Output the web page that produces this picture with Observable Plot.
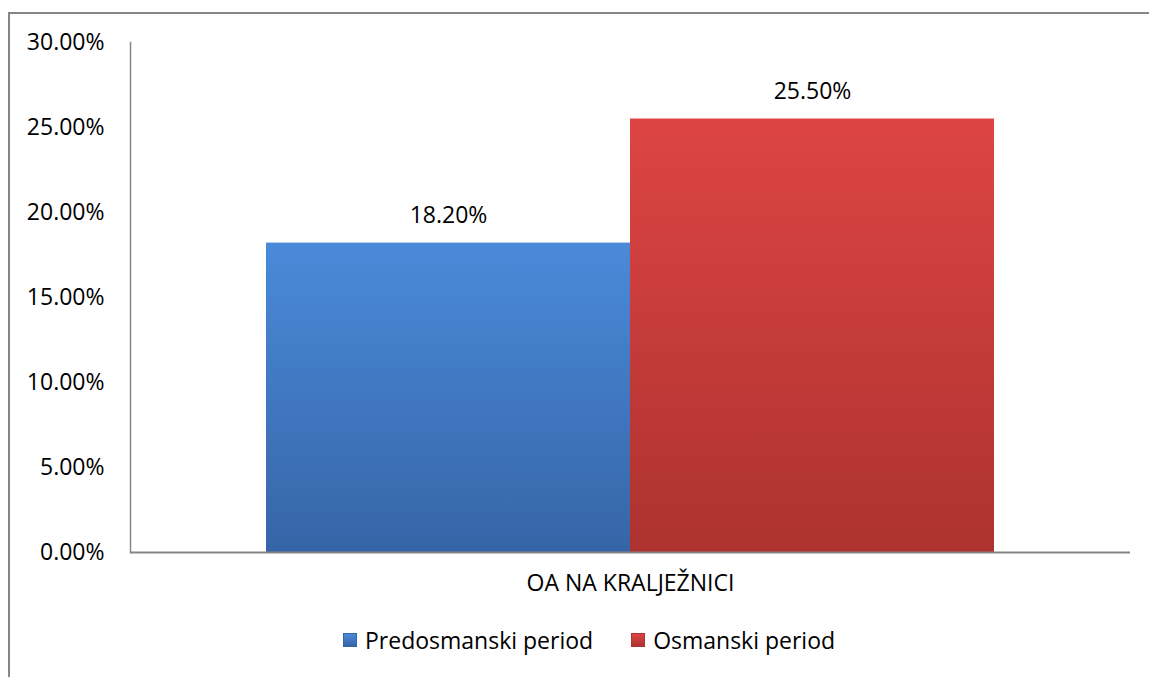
<!DOCTYPE html>
<html>
<head>
<meta charset="utf-8">
<script src="https://cdn.jsdelivr.net/npm/d3@7"></script>
<script src="https://cdn.jsdelivr.net/npm/@observablehq/plot@0.6"></script>
<style>
  html, body { margin: 0; padding: 0; background: #fff; overflow: hidden; }
  #wrap { position: relative; width: 1149px; height: 677px; font-family: "Open Sans", sans-serif; }
  #frame { position: absolute; left: 8px; top: 12px; width: 2000px; height: 2000px; border-left: 2px solid #868686; border-top: 2px solid #868686; box-sizing: border-box; }
  #chart { position: absolute; left: 0; top: 0; }
  #legend { position: absolute; left: 343px; top: 624px; display: flex; align-items: center; font-size: 23px; color: #000; white-space: nowrap; }
  .item { display: flex; align-items: center; margin-right: 38px; }
  .sw { width: 14px; height: 14px; margin-right: 8px; box-sizing: border-box; }
</style>
</head>
<body>
<div id="wrap">
  <div id="frame"></div>
  <div id="chart"></div>
  <div id="legend"></div>
</div>
<script>
const category = "OA NA KRALJEŽNICI";
const seriesNames = ["Predosmanski period", "Osmanski period"];
const seriesValues = [18.2, 25.5];
const yTicks = [0, 5, 10, 15, 20, 25, 30];
const gradientIds = ["gBlue", "gRed"];
const gradientStops = [["#4a8ad9", "#3665a7"], ["#dd4543", "#ad3230"]];

const data = seriesNames.map((s, i) => ({category, series: s, value: seriesValues[i]}));

const chart = Plot.plot({
  width: 1149,
  height: 610,
  marginLeft: 130,
  marginRight: 19,
  marginTop: 42,
  marginBottom: 58,
  style: {fontFamily: "Open Sans, sans-serif", fontSize: "23px", color: "#000", background: "transparent", overflow: "visible"},
  fx: {padding: 0, label: null, tickSize: 0, tickPadding: 22, axis: "bottom"},
  x: {domain: seriesNames, axis: null, paddingInner: 0, paddingOuter: 0.3736},
  y: {domain: [0, 30], ticks: yTicks, tickFormat: d => d.toFixed(2) + "%", tickSize: 0, tickPadding: 26, label: null},
  color: {domain: seriesNames, range: gradientIds.map(id => `url(#${id})`)},
  marks: [
    Plot.barY(data, {fx: "category", x: "series", y: "value", fill: "series", inset: 0}),
    Plot.frame({anchor: "left", stroke: "#868686", strokeWidth: 1.5, strokeOpacity: 1}),
    Plot.ruleY([0], {stroke: "#868686", strokeWidth: 2}),
    Plot.text(data, {fx: "category", x: "series", y: "value", text: d => d.value.toFixed(2) + "%", dy: -27, fill: "#000", fontSize: 23})
  ]
});

const svg = d3.select(chart);
const defs = svg.insert("defs", ":first-child");
gradientIds.forEach((id, i) => {
  const g = defs.append("linearGradient").attr("id", id).attr("x1", 0).attr("y1", 0).attr("x2", 0).attr("y2", 1);
  g.append("stop").attr("offset", "0%").attr("stop-color", gradientStops[i][0]);
  g.append("stop").attr("offset", "100%").attr("stop-color", gradientStops[i][1]);
});
document.getElementById("chart").appendChild(chart);

const legend = document.getElementById("legend");
seriesNames.forEach((s, i) => {
  const item = document.createElement("div");
  item.className = "item";
  const sw = document.createElement("div");
  sw.className = "sw";
  sw.style.background = `linear-gradient(to bottom, ${gradientStops[i][0]}, ${gradientStops[i][1]})`;
  sw.style.border = `1px solid ${gradientStops[i][1]}`;
  const label = document.createElement("span");
  label.textContent = s;
  item.appendChild(sw);
  item.appendChild(label);
  legend.appendChild(item);
});
</script>
</body>
</html>
